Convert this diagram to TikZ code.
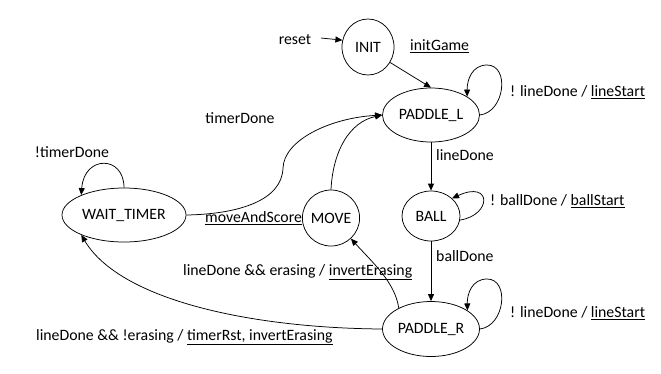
\documentclass[tikz,border=0pt]{standalone}
\usepackage{fontspec}
\setmainfont{Carlito}
\usetikzlibrary{arrows.meta,shapes.geometric}

\begin{document}
\begin{tikzpicture}[
    x=1pt, y=-1pt,
    font=\fontsize{15.8}{18}\selectfont,
    state/.style={draw, ellipse, inner sep=0pt, line width=0.75pt},
    lbl/.style={inner sep=0pt, anchor=west},
    arr/.style={-{Triangle[length=7pt, width=6pt]}, line width=0.75pt},
  ]
  \useasboundingbox (0,0) rectangle (661,373);
  \node[state, minimum width=52, minimum height=56] (init) at (368,47) {INIT};
  \node[state, minimum width=97, minimum height=54] (pl) at (431,115) {PADDLE\_L};
  \node[state, minimum width=58, minimum height=50] (ball) at (431,216) {BALL};
  \node[state, minimum width=97, minimum height=55] (pr) at (431,329) {PADDLE\_R};
  \node[state, minimum width=56, minimum height=56] (move) at (331,218) {MOVE};
  \node[state, minimum width=124, minimum height=54] (wt) at (124,215) {WAIT\_TIMER};
  \coordinate (rst) at (321,38);
  % labels
  \node[lbl, anchor=center] (lreset) at (295,40) {reset};
  \node[lbl] (linit) at (410,46) {\underline{initGame}};
  \node[lbl] (lplloop) at (510,92) {! lineDone / \underline{lineStart}};
  \node[lbl, anchor=center] (ltimer) at (240,118) {timerDone};
  \node[lbl, anchor=center] (lwait) at (72,152) {!timerDone};
  \node[lbl] (lline) at (436,155) {lineDone};
  \node[lbl] (lballloop) at (490,201) {! ballDone / \underline{ballStart}};
  \node[lbl] (lmove) at (205,218) {\underline{moveAndScore}};
  \node[lbl] (lball) at (436,256) {ballDone};
  \node[lbl] (lerase) at (183,272) {lineDone \&\& erasing / \underline{invertErasing}};
  \node[lbl] (lprloop) at (510,313) {! lineDone / \underline{lineStart}};
  \node[lbl] (lnoerase) at (36,337) {lineDone \&\& !erasing / \underline{timerRst, invertErasing}};
  % transitions
  \draw[arr] (rst) -- (init.165);
  \draw[arr] (init.-35) -- (pl.north);
  \draw[arr] (pl.east) .. controls (505,112) and (510,65) .. (487,65) .. controls (472,65) and (467,80) .. (pl.27);
  \draw[arr] (pl.south) -- (ball.north);
  \draw[arr] (ball.-8) .. controls (492,215) and (492,180) .. (ball.40);
  \draw[arr] (ball.south) -- (pr.north);
  \draw[arr] (pr.east) .. controls (505,326) and (510,279) .. (487,279) .. controls (472,279) and (467,294) .. (pr.27);
  \draw[arr] (pr.147) .. controls (395,282) and (372,262) .. (move.-46);
  \draw[arr] (pr.west) .. controls (250,328) and (120,300) .. (wt.205);
  \draw[arr] (wt.north) .. controls (124,155) and (84,155) .. (wt.155);
  \draw[arr] (wt.east) .. controls (240,214) and (282,200) .. (283,168) .. controls (284,140) and (330,118) .. (pl.west);
  \draw[arr] (move.north) .. controls (333,150) and (350,122) .. (pl.west);
\end{tikzpicture}
\end{document}
